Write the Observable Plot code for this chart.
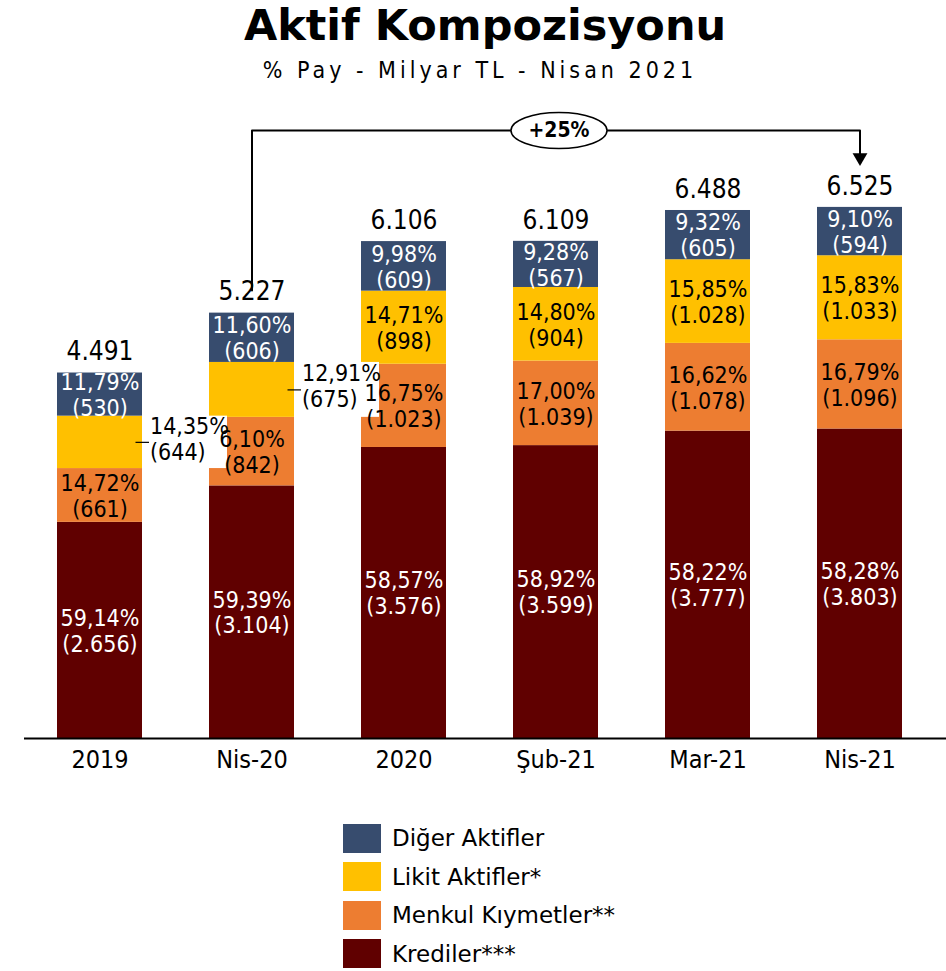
<!DOCTYPE html>
<html>
<head>
<meta charset="utf-8">
<script src="https://cdn.jsdelivr.net/npm/d3@7"></script>
<script src="https://cdn.jsdelivr.net/npm/@observablehq/plot@0.6"></script>
<style>
  html, body { margin: 0; padding: 0; background: #fff; }
  body { width: 946px; height: 971px; position: relative; overflow: hidden; font-family: "DejaVu Sans Condensed", "DejaVu Sans", sans-serif; font-stretch: condensed; }
  #title { position: absolute; left: 12px; top: 4px; width: 946px; text-align: center; font-family: "DejaVu Sans", sans-serif; font-stretch: normal; font-weight: bold; font-size: 43px; line-height: 1; color: #000; }
  #subtitle { position: absolute; left: 7px; top: 59px; width: 946px; text-align: center; font-size: 23px; line-height: 1; letter-spacing: 4px; color: #000; }
  #chart { position: absolute; left: 0; top: 95px; }
  #legend { position: absolute; left: 343px; top: 819px; }
  .row { display: flex; align-items: center; height: 38.5px; }
  .sw { width: 38px; height: 29px; margin-right: 11px; }
  .lab { font-family: "DejaVu Sans", sans-serif; font-stretch: normal; font-size: 23px; color: #000; }
</style>
</head>
<body>
<div id="title"></div>
<div id="subtitle"></div>
<div id="chart"></div>
<div id="legend"></div>
<script>
// ---- data ----
const titleText = "Aktif Kompozisyonu";
const subtitleText = "% Pay - Milyar TL - Nisan 2021";
const periods = ["2019", "Nis-20", "2020", "Şub-21", "Mar-21", "Nis-21"];
const seriesNames = ["Krediler***", "Menkul Kıymetler**", "Likit Aktifler*", "Diğer Aktifler"]; // bottom -> top
const legendNames = ["Diğer Aktifler", "Likit Aktifler*", "Menkul Kıymetler**", "Krediler***"];
const krediler = [2656, 3104, 3576, 3599, 3777, 3803];
const menkul   = [661, 842, 1023, 1039, 1078, 1096];
const likit    = [644, 675, 898, 904, 1028, 1033];
const diger    = [530, 606, 609, 567, 605, 594];
const kredilerPct = ["59,14%", "59,39%", "58,57%", "58,92%", "58,22%", "58,28%"];
const menkulPct   = ["14,72%", "6,10%", "16,75%", "17,00%", "16,62%", "16,79%"];
const likitPct    = ["14,35%", "12,91%", "14,71%", "14,80%", "15,85%", "15,83%"];
const digerPct    = ["11,79%", "11,60%", "9,98%", "9,28%", "9,32%", "9,10%"];
const totals      = [4491, 5227, 6106, 6109, 6488, 6525];
const likitOutside = ["2019", "Nis-20"];
const growthFrom = "Nis-20", growthTo = "Nis-21", growthLabel = "+25%";

// ---- styles ----
const colors = {"Krediler***": "#600000", "Menkul Kıymetler**": "#ED7D31", "Likit Aktifler*": "#FFC000", "Diğer Aktifler": "#374C6E"};
const whiteText = ["Krediler***", "Diğer Aktifler"];
const FONT = '"DejaVu Sans Condensed", "DejaVu Sans", sans-serif';

const loc = d3.formatLocale({decimal: ",", thousands: ".", grouping: [3], currency: ["", ""]});
const fmt = loc.format(",d");

// stack the segments (bottom -> top)
const valuesBySeries = [krediler, menkul, likit, diger];
const pctBySeries = [kredilerPct, menkulPct, likitPct, digerPct];
const rows = [];
periods.forEach((p, i) => {
  let acc = 0;
  seriesNames.forEach((s, j) => {
    const v = valuesBySeries[j][i];
    rows.push({period: p, series: s, value: v, pct: pctBySeries[j][i], y1: acc, y2: acc + v, mid: acc + v / 2});
    acc += v;
  });
});
const label = d => `${d.pct}\n(${fmt(d.value)})`;
const isOutside = d => d.series === "Likit Aktifler*" && likitOutside.includes(d.period);
const outsideRows = rows.filter(isOutside);
const whiteRows = rows.filter(d => whiteText.includes(d.series));
const blackRows = rows.filter(d => !whiteText.includes(d.series) && !isOutside(d));
const totalRows = periods.map((p, i) => ({period: p, total: totals[i]}));

// annotation levels (data units)
const LEVEL = 7471, START = 5505, TIP = 7139, END = 7100;
const annotLine = [
  {period: growthFrom, y: START},
  {period: growthFrom, y: LEVEL},
  {period: growthTo, y: LEVEL},
  {period: growthTo, y: END}
];
const k = 0.5523, rx = 48, ry = 18;
const ellipse = {draw(c) {
  c.moveTo(rx, 0);
  c.bezierCurveTo(rx, ry * k, rx * k, ry, 0, ry);
  c.bezierCurveTo(-rx * k, ry, -rx, ry * k, -rx, 0);
  c.bezierCurveTo(-rx, -ry * k, -rx * k, -ry, 0, -ry);
  c.bezierCurveTo(rx * k, -ry, rx, -ry * k, rx, 0);
  c.closePath();
}};

document.getElementById("title").textContent = titleText;
document.getElementById("subtitle").textContent = subtitleText;

const plot = Plot.plot({
  width: 946,
  height: 695,
  marginLeft: 24,
  marginRight: 0,
  marginTop: 24.5,
  marginBottom: 52,
  style: {fontFamily: FONT, background: "white", overflow: "visible"},
  x: {domain: periods, range: [56, 903], paddingInner: 0.44, paddingOuter: 0, label: null},
  y: {domain: [0, 7600], axis: null},
  color: {domain: seriesNames, range: seriesNames.map(s => colors[s])},
  marks: [
    Plot.barY(rows, {x: "period", y1: "y1", y2: "y2", fill: "series"}),
    // white boxes behind outside labels
    Plot.barY(outsideRows, {x: "period", y1: "y1", y2: "y2", fill: "white", dx: 92, insetRight: 7}),
    Plot.tickY(outsideRows, {x: "period", y: "mid", stroke: "black", strokeWidth: 1.2, dx: 7, insetLeft: 71.5}),
    Plot.ruleY([0], {stroke: "black", strokeWidth: 2}),
    Plot.axisX({tickSize: 0, tickPadding: 12, fontSize: 25, fill: "black", label: null}),
    Plot.text(whiteRows, {x: "period", y: "mid", text: label, fill: "white", fontSize: 23, lineHeight: 1.13}),
    Plot.text(blackRows, {x: "period", y: "mid", text: label, fill: "black", fontSize: 23, lineHeight: 1.13}),
    Plot.text(outsideRows, {x: "period", y: "mid", text: label, fill: "black", fontSize: 23, lineHeight: 1.13, textAnchor: "start", dx: 50, dy: -4}),
    Plot.text(totalRows, {x: "period", y: "total", text: d => fmt(d.total), fontSize: 26, fill: "black", dy: -21}),
    // growth annotation
    Plot.line(annotLine, {x: "period", y: "y", stroke: "black", strokeWidth: 2, curve: "linear"}),
    Plot.dot([{period: growthTo, y: TIP}], {x: "period", y: "y", symbol: "triangle", r: 5.5, rotate: 180, fill: "black", stroke: null}),
    Plot.dot([{period: "Şub-21", y: LEVEL}], {x: "period", y: "y", symbol: ellipse, fill: "white", stroke: "black", strokeWidth: 1.5, dx: 3}),
    Plot.text([{period: "Şub-21", y: LEVEL, t: growthLabel}], {x: "period", y: "y", text: "t", fontSize: 21, fontWeight: "bold", fill: "black", dx: 3})
  ]
});
document.getElementById("chart").appendChild(plot);

const lg = document.getElementById("legend");
legendNames.forEach(n => {
  const r = document.createElement("div"); r.className = "row";
  const sw = document.createElement("div"); sw.className = "sw"; sw.style.background = colors[n];
  const t = document.createElement("div"); t.className = "lab"; t.textContent = n;
  r.appendChild(sw); r.appendChild(t); lg.appendChild(r);
});
</script>
</body>
</html>
